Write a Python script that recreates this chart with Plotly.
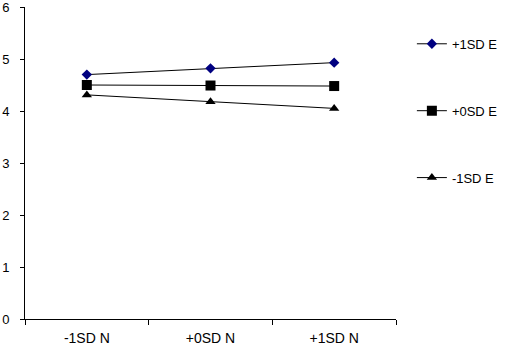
import plotly.graph_objects as go

categories = ["-1SD N", "+0SD N", "+1SD N"]
series_names = ["+1SD E", "+0SD E", "-1SD E"]
plus1 = [4.70, 4.82, 4.93]
zero = [4.50, 4.49, 4.48]
minus1 = [4.31, 4.18, 4.05]
y_ticks = [0, 1, 2, 3, 4, 5, 6]

FONT = "Liberation Sans, Arial, sans-serif"
fig = go.Figure()
styles = [
    (plus1, dict(symbol="diamond", size=8, color="#000080", line=dict(color="#000080", width=0))),
    (zero, dict(symbol="square", size=10, color="black")),
    (minus1, dict(symbol="triangle-up", size=9, color="black")),
]
for i, (name, (vals, mk)) in enumerate(zip(series_names, styles)):
    fig.add_trace(go.Scatter(
        x=categories, y=vals, name=name, mode="lines+markers",
        line=dict(color="black", width=1), marker=mk,
        legendgroup=f"g{i}",
    ))

fig.update_layout(
    width=509, height=354,
    margin=dict(l=25, r=112, t=7, b=35),
    paper_bgcolor="white", plot_bgcolor="white",
    font=dict(family=FONT, size=13, color="black"),
    showlegend=True,
    legend=dict(x=1.04, y=0.93, xanchor="left", yanchor="top",
                tracegroupgap=47, font=dict(size=13), itemwidth=30,
                bgcolor="rgba(0,0,0,0)"),
)
fig.update_xaxes(
    type="category", range=[-0.5, 2.5], showline=True, linecolor="black", linewidth=1,
    ticks="outside", tickson="boundaries", ticklen=5, tickcolor="black",
    showgrid=False, zeroline=False, tickfont=dict(size=14), ticklabeloverflow="allow",
    automargin=False, ticklabelstandoff=6,
)
fig.update_yaxes(
    range=[0, 6], tickvals=y_ticks, showline=True, linecolor="black", linewidth=1,
    ticks="outside", ticklen=4, tickcolor="black", showgrid=False, zeroline=False,
    tickfont=dict(size=13), ticklabeloverflow="allow", automargin=False,
    ticklabelstandoff=8,
)
fig.write_html("out.html")
